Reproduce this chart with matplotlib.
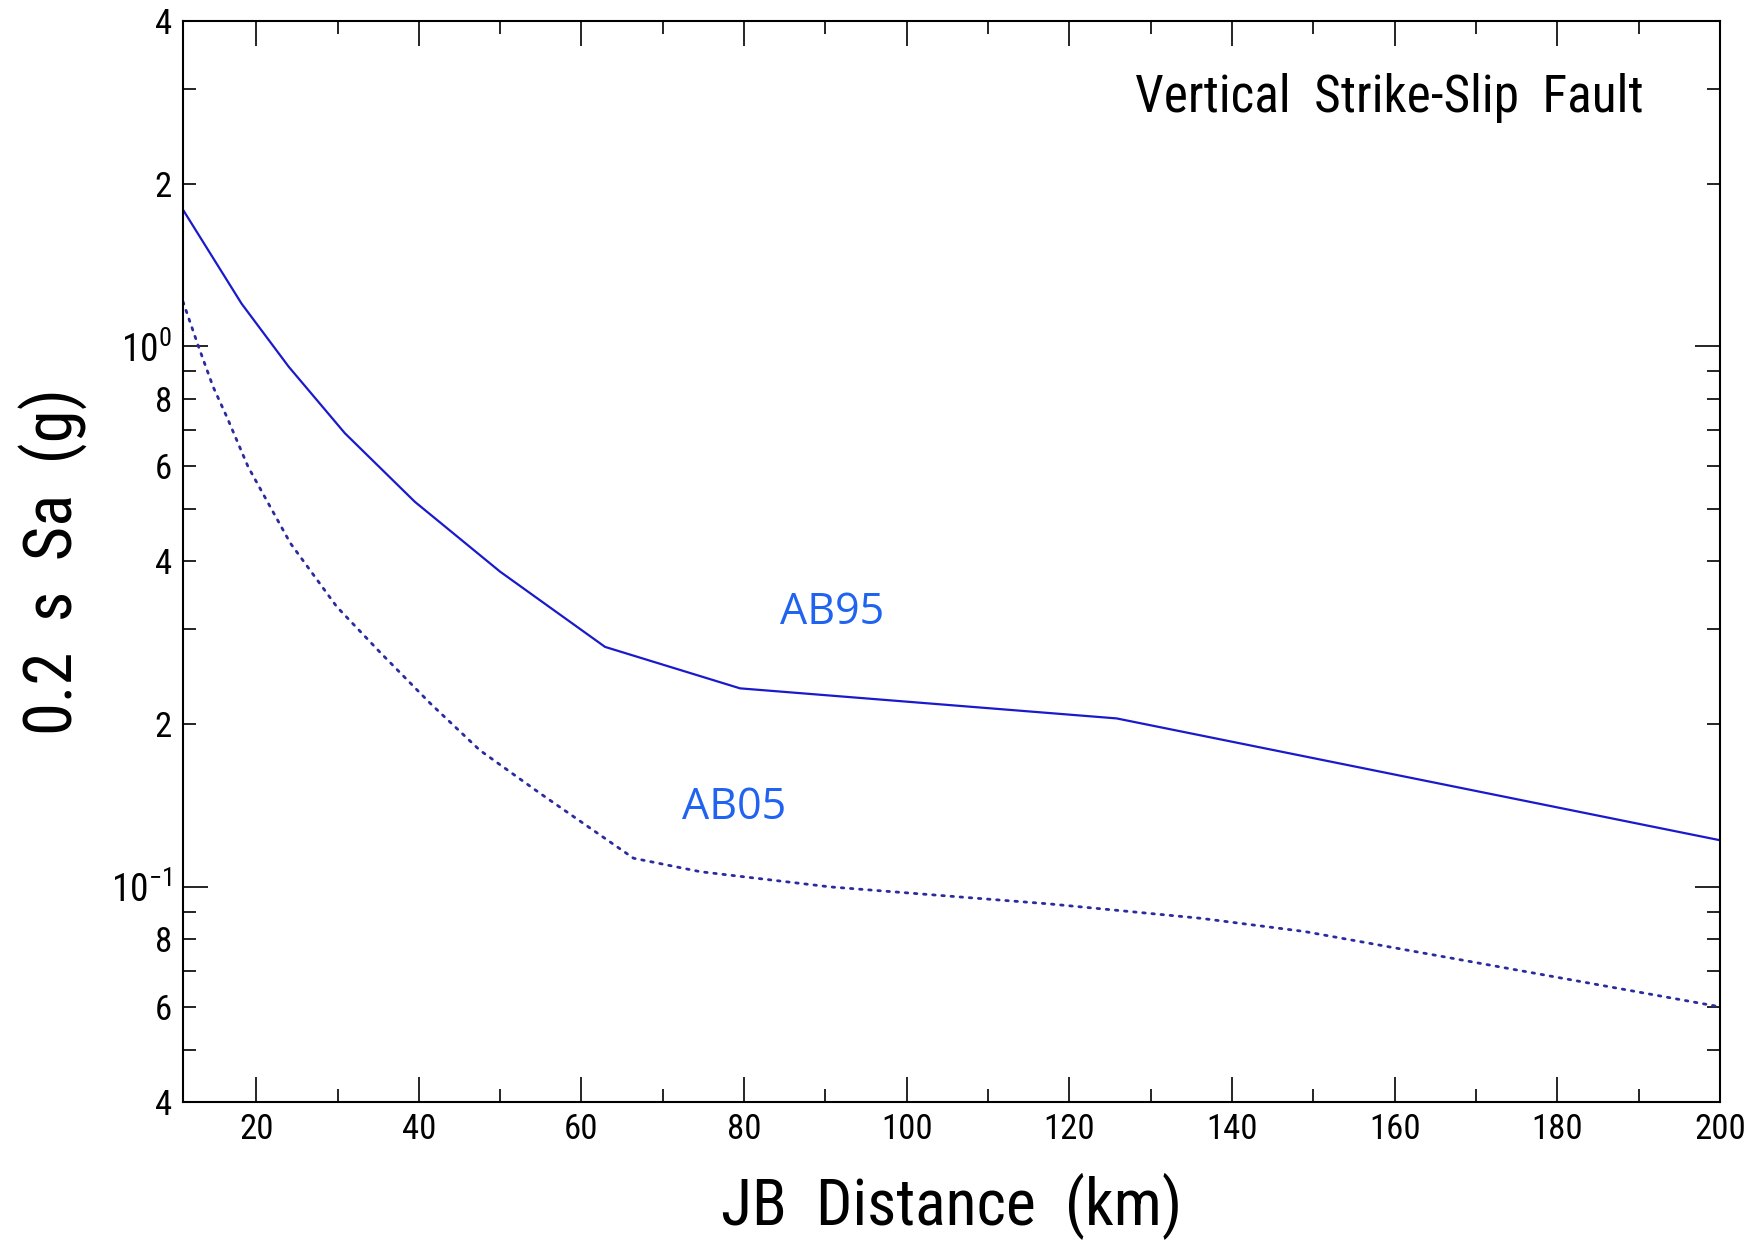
import matplotlib
matplotlib.use('Agg')
import matplotlib.pyplot as plt
from matplotlib import font_manager
from matplotlib.ticker import FixedLocator, FixedFormatter, LogLocator, FuncFormatter

# JB distance (km) and 0.2 s Sa (g)
dist_ab95 = [11, 18.2, 24.0, 30.9, 39.5, 50.0, 62.9, 79.5, 125.8, 200]
sa_ab95 = [1.79, 1.20, 0.917, 0.691, 0.516, 0.383, 0.278, 0.233, 0.205, 0.122]

dist_ab05 = [11, 12.9, 14.7, 16.4, 19.0, 24.2, 29.9, 35.2, 41.4, 47.5, 54.9,
             66.4, 74.6, 90.6, 117.6, 136.1, 148.9, 200]
sa_ab05 = [1.21, 1.0, 0.842, 0.740, 0.599, 0.4325, 0.330, 0.272, 0.2186, 0.179, 0.149,
           0.113, 0.1067, 0.100, 0.093, 0.0875, 0.0827, 0.060]

x_major = [20, 40, 60, 80, 100, 120, 140, 160, 180, 200]
x_minor = [30, 50, 70, 90, 110, 130, 150, 170, 190]
y_major = [0.1, 1.0]
y_major_labels = [r'$10^{-1}$', r'$10^{0}$']


def pick(names):
    for n in names:
        try:
            font_manager.findfont(n, fallback_to_default=False)
            return n
        except Exception:
            pass
    return 'DejaVu Sans'


narrow = pick(['Liberation Sans Narrow', 'Roboto Condensed', 'DejaVu Sans'])
plt.rcParams['font.family'] = narrow
plt.rcParams['mathtext.fontset'] = 'custom'
plt.rcParams['mathtext.rm'] = narrow

fig = plt.figure(figsize=(17.62, 12.41), dpi=100)
ax = fig.add_axes([0.10386, 0.11201, 0.87230, 0.87107])

ax.plot(dist_ab95, sa_ab95, '-', color='#1a1acc', linewidth=1.6)
ax.plot(dist_ab05, sa_ab05, linestyle=(0, (0.9, 2.4)), color='#2b2ba0', linewidth=2.0,
        dash_capstyle='round')

ax.set_yscale('log')
ax.set_xlim(11, 200)
ax.set_ylim(0.04, 4)

ax.xaxis.set_major_locator(FixedLocator(x_major))
ax.xaxis.set_minor_locator(FixedLocator(x_minor))
ax.yaxis.set_major_locator(FixedLocator(y_major))
ax.yaxis.set_major_formatter(FixedFormatter(y_major_labels))
ax.yaxis.set_minor_locator(LogLocator(base=10, subs=[2, 3, 4, 5, 6, 7, 8, 9]))


def minor_fmt(v, pos):
    import math
    m = v / 10 ** math.floor(math.log10(v) + 1e-9)
    m = round(m)
    return str(m) if m in (2, 4, 6, 8) else ''


ax.yaxis.set_minor_formatter(FuncFormatter(minor_fmt))

ax.tick_params(which='both', direction='in', top=True, right=True, labelsize=25,
               width=1.2, color='black')
ax.tick_params(which='major', length=18, pad=8)
ax.tick_params(which='minor', length=9.5, pad=8)
ax.tick_params(axis='y', which='major', labelsize=27)
for s in ax.spines.values():
    s.set_linewidth(1.5)

ax.set_xlabel('JB  Distance  (km)', fontsize=46)
ax.xaxis.set_label_coords(0.5, -0.066)
ax.set_ylabel('0.2  s  Sa  (g)', fontsize=48)
ax.yaxis.set_label_coords(-0.062, 0.5)

ax.text(0.950, 0.9158, 'Vertical  Strike-Slip  Fault', transform=ax.transAxes,
        ha='right', va='baseline', fontsize=37)

ax.text(84.4, 0.3066, 'AB95', color='#1f63f0', fontsize=31, family='Open Sans',
        ha='left', va='baseline')
ax.text(72.4, 0.1336, 'AB05', color='#1f63f0', fontsize=31, family='Open Sans',
        ha='left', va='baseline')

fig.savefig('out.png', dpi=100)
